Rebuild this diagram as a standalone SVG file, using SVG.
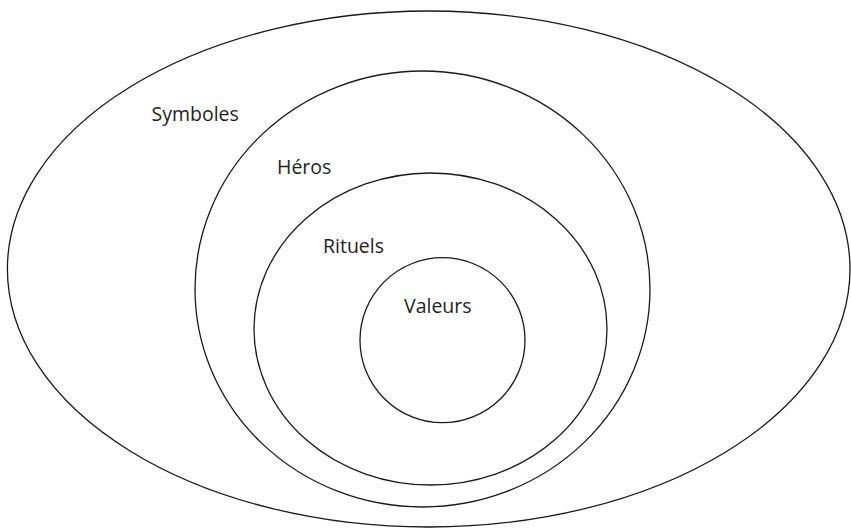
<svg xmlns="http://www.w3.org/2000/svg" width="851" height="529" viewBox="0 0 851 529">
<style>
.ring{fill:none;stroke:#1a1a1a;stroke-width:1.3}
.lbl{font-family:"Open Sans","Liberation Sans",sans-serif;font-size:19.5px;fill:#231f20}
</style>
<rect width="851" height="529" fill="#ffffff"/>
<g id="symboles">
<ellipse class="ring" cx="428.7" cy="269" rx="421.3" ry="258"/>
<text class="lbl" x="151.5" y="121">Symboles</text>
</g>
<g id="heros">
<ellipse class="ring" cx="422.5" cy="289" rx="227.5" ry="218"/>
<text class="lbl" x="277" y="174">Héros</text>
</g>
<g id="rituels">
<ellipse class="ring" cx="430.5" cy="329" rx="176.5" ry="156"/>
<text class="lbl" x="323" y="253">Rituels</text>
</g>
<g id="valeurs">
<circle class="ring" cx="442.5" cy="340.2" r="82.5"/>
<text class="lbl" x="404" y="313">Valeurs</text>
</g>
</svg>
